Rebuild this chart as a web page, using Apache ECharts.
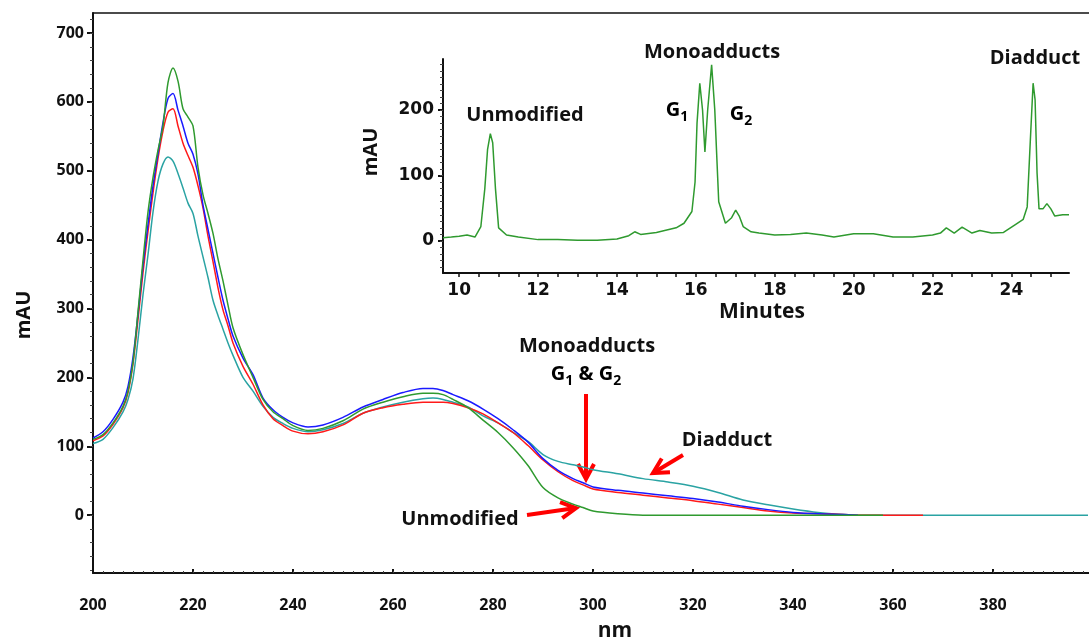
<!DOCTYPE html>
<html>
<head>
<meta charset="utf-8">
<script src="https://cdn.jsdelivr.net/npm/echarts@6/dist/echarts.min.js"></script>
<style>
  html, body { margin: 0; padding: 0; background: #fff; }
  #chart { width: 1089px; height: 643px; }
</style>
</head>
<body>
<div id="chart"></div>
<script>
// UV spectra (main plot)
var nm = [200, 202, 204, 206, 207, 208, 209, 210, 211, 212, 213, 214, 215, 216, 217, 218, 219, 220, 221, 222,
  223, 224, 225, 226, 227, 228, 230, 232, 234, 236, 238, 240, 243, 246, 250, 254, 258, 262, 266, 268, 270, 272,
  275, 278, 281, 284, 287, 290, 293, 296, 298, 300, 305, 310, 315, 320, 325, 330, 335, 340, 345, 350, 353, 358,
  366, 380, 399]
var unmodified = [110, 117, 134, 158, 180, 222, 295, 370, 440, 490, 530, 565, 628, 649, 630, 590, 578, 565, 505, 465,
  438, 409, 372, 340, 305, 272, 233, 200, 168, 150, 140, 130, 123, 126, 137, 154, 164, 172, 177, 177, 175, 168,
  156, 138, 120, 98, 72, 40, 25, 16, 11, 6, 2, 0, 0, 0, 0, 0, 0, 0, 0, 0, 0, 0,
  null, null, null]
var monoBlue = [112, 121, 139, 164, 187, 229, 292, 362, 422, 478, 525, 570, 605, 612, 588, 565, 540, 524, 495, 450,
  415, 380, 345, 312, 285, 260, 228, 204, 170, 153, 142, 134, 128, 131, 142, 157, 168, 178, 184, 184, 181, 175,
  166, 154, 140, 124, 106, 82, 65, 53, 47, 41, 36, 32, 28, 24, 19, 13, 8, 4, 2, 1, 0, null,
  null, null, null]
var monoRed = [108, 115, 132, 156, 178, 220, 284, 352, 412, 468, 518, 558, 585, 590, 565, 540, 522, 505, 478, 446,
  405, 368, 330, 298, 275, 250, 216, 190, 160, 140, 130, 122, 118, 121, 131, 148, 156, 161, 164, 164, 164, 162,
  156, 147, 134, 120, 101, 80, 63, 50, 44, 38, 33, 29, 25, 21, 16, 11, 6, 3, 2, 1, 0, 0,
  0, null, null]
var diadduct = [104, 110, 127, 150, 168, 198, 255, 320, 378, 440, 485, 510, 520, 514, 496, 475, 453, 438, 405, 375,
  345, 312, 290, 270, 250, 232, 200, 180, 158, 142, 133, 126, 121, 124, 133, 148, 157, 164, 169, 170, 168, 164,
  157, 144, 134, 120, 107, 88, 78, 73, 70, 66, 60, 53, 48, 42, 33, 22, 15, 9, 4, 1, 0, 0,
  0, 0, 0]

// HPLC trace (inset)
var minutes = [9.59, 9.8, 10.0, 10.2, 10.4, 10.55, 10.65, 10.72, 10.79, 10.85, 10.92, 11.0, 11.2, 11.5, 12.0, 12.5,
  13.0, 13.5, 14.0, 14.3, 14.45, 14.6, 15.0, 15.5, 15.7, 15.9, 15.98, 16.03, 16.1, 16.17, 16.23, 16.3, 16.4, 16.48,
  16.58, 16.75, 16.9, 17.01, 17.1, 17.2, 17.4, 17.6, 18.0, 18.4, 18.8, 19.2, 19.5, 20.0, 20.5, 21.0, 21.5, 22.0,
  22.2, 22.35, 22.55, 22.75, 23.0, 23.2, 23.5, 23.8, 24.1, 24.3, 24.4, 24.48, 24.55, 24.6, 24.65, 24.7, 24.8, 24.9,
  25.0, 25.1, 25.3, 25.46]
var trace = [5, 6, 7, 9, 6, 22, 80, 140, 164, 150, 80, 20, 9, 6, 2, 2,
  1, 1, 3, 8, 14, 10, 13, 20, 27, 45, 90, 180, 241, 200, 136, 200, 269, 200,
  60, 27, 35, 47, 38, 22, 14, 12, 9, 10, 12, 9, 6, 11, 11, 6, 6, 9,
  12, 20, 12, 21, 12, 16, 12, 13, 25, 33, 52, 154, 241, 216, 104, 49, 49, 57,
  49, 38, 40, 40]

var mainXLabels = [200, 220, 240, 260, 280, 300, 320, 340, 360, 380]
var mainYLabels = [0, 100, 200, 300, 400, 500, 600, 700]
var insetXLabels = [10, 12, 14, 16, 18, 20, 22, 24]
var insetYLabels = [0, 100, 200]

function pairs(xs, ys) {
  return xs.map(function (x, i) { return [x, ys[i]] })
}
function steps(a, b, step) {
  var out = []
  for (var v = a; v <= b + 1e-9; v += step) out.push(Math.round(v * 100) / 100)
  return out
}

var TXT = { fontFamily: 'Open Sans', fontWeight: 'bold', fill: '#111' }
function label(text, x, y, size, rotation) {
  return {
    type: 'text', x: x, y: y, rotation: rotation || 0,
    style: Object.assign({ text: text, fontSize: size, align: 'center', verticalAlign: 'middle' }, TXT)
  }
}
var subRich = {
  b: { fontFamily: 'Open Sans', fontWeight: 'bold', fontSize: 20, lineHeight: 24, verticalAlign: 'top', color: '#111' },
  s: { fontFamily: 'Open Sans', fontWeight: 'bold', fontSize: 14, lineHeight: 14, verticalAlign: 'bottom', color: '#111' }
}
function richLabel(text, x, y) {
  return {
    type: 'text', x: x, y: y,
    style: { text: text, align: 'center', verticalAlign: 'middle', rich: subRich }
  }
}
function arrow(x1, y1, x2, y2) {
  var dx = x2 - x1, dy = y2 - y1
  var len = Math.sqrt(dx * dx + dy * dy)
  var ux = dx / len, uy = dy / len, h = 15, w = 8
  var bx = x2 - ux * h, by = y2 - uy * h
  return [
    { type: 'line', shape: { x1: x1, y1: y1, x2: x2 - ux * 2, y2: y2 - uy * 2 }, style: { stroke: '#ff0000', lineWidth: 4 } },
    { type: 'polyline', shape: { points: [[bx - uy * w, by + ux * w], [x2, y2], [bx + uy * w, by - ux * w]] },
      style: { stroke: '#ff0000', lineWidth: 4, fill: null, lineJoin: 'miter' } }
  ]
}

var axisLine = { show: true, onZero: false, lineStyle: { color: '#111', width: 2 } }
var noLine = { show: false, onZero: false }
var mainTick = { fontFamily: 'Open Sans', fontWeight: 'bold', fontSize: 16, color: '#111' }
var insetTick = { fontFamily: 'DejaVu Sans', fontWeight: 'bold', fontSize: 17, color: '#111' }

function mainLine(name, data, color) {
  return {
    name: name, type: 'line', xAxisIndex: 0, yAxisIndex: 0, data: pairs(nm, data),
    showSymbol: false, smooth: 0.3, lineStyle: { color: color, width: 1.5 }, itemStyle: { color: color }
  }
}

var chart = echarts.init(document.getElementById('chart'))
chart.setOption({
  animation: false,
  backgroundColor: '#fff',
  grid: [
    { left: 93, top: 13, width: 996, height: 560 },
    { left: 443, top: 59, width: 626, height: 214 }
  ],
  xAxis: [
    {
      type: 'value', gridIndex: 0, position: 'bottom', min: 200, max: 399.2,
      axisLine: axisLine, splitLine: { show: false },
      axisTick: { inside: true, length: 4, customValues: mainXLabels, lineStyle: { color: '#111', width: 2 } },
      axisLabel: Object.assign({ margin: 24, customValues: mainXLabels }, mainTick)
    },
    {
      // minor ticks along the bottom
      type: 'value', gridIndex: 0, position: 'bottom', min: 200, max: 399.2,
      axisLine: noLine, splitLine: { show: false }, axisLabel: { show: false },
      axisTick: { inside: true, length: 2, customValues: steps(202, 398, 2), lineStyle: { color: '#444' } }
    },
    {
      // top frame line
      type: 'value', gridIndex: 0, position: 'top', min: 200, max: 399.2,
      axisLine: { show: true, onZero: false, lineStyle: { color: '#111', width: 1.5 } },
      axisTick: { show: false }, axisLabel: { show: false }, splitLine: { show: false }
    },
    {
      type: 'value', gridIndex: 1, position: 'bottom', min: 9.59, max: 25.46,
      axisLine: axisLine, splitLine: { show: false },
      axisTick: { length: 4, customValues: steps(10, 25, 0.5), lineStyle: { color: '#111', width: 1.5 } },
      axisLabel: Object.assign({ margin: 9, customValues: insetXLabels }, insetTick)
    }
  ],
  yAxis: [
    {
      type: 'value', gridIndex: 0, position: 'left', min: -84, max: 729,
      axisLine: axisLine, splitLine: { show: false },
      axisTick: { length: 6, customValues: mainYLabels, lineStyle: { color: '#111', width: 2 } },
      axisLabel: Object.assign({ margin: 9, customValues: mainYLabels }, mainTick)
    },
    {
      // minor ticks for the main y axis
      type: 'value', gridIndex: 0, position: 'left', min: -84, max: 729,
      axisLine: noLine, splitLine: { show: false }, axisLabel: { show: false },
      axisTick: { length: 3, customValues: steps(-80, 720, 20), lineStyle: { color: '#444' } }
    },
    {
      type: 'value', gridIndex: 1, position: 'left', min: -49, max: 278,
      axisLine: axisLine, splitLine: { show: false },
      axisTick: { length: 5, customValues: insetYLabels, lineStyle: { color: '#111', width: 2 } },
      axisLabel: Object.assign({ margin: 9, customValues: insetYLabels }, insetTick)
    },
    {
      type: 'value', gridIndex: 1, position: 'left', min: -49, max: 278,
      axisLine: noLine, splitLine: { show: false }, axisLabel: { show: false },
      axisTick: { length: 3, customValues: steps(-40, 270, 10), lineStyle: { color: '#444' } }
    }
  ],
  series: [
    mainLine('Diadduct', diadduct, '#2aa3a3'),
    mainLine('Monoadduct G2', monoRed, '#ff1a1a'),
    mainLine('Monoadduct G1', monoBlue, '#1a1aff'),
    mainLine('Unmodified', unmodified, '#2f9a2f'),
    {
      name: 'HPLC', type: 'line', xAxisIndex: 3, yAxisIndex: 2, data: pairs(minutes, trace),
      showSymbol: false, lineStyle: { color: '#2f9a2f', width: 1.5 }, itemStyle: { color: '#2f9a2f' }
    }
  ],
  graphic: [
    label('mAU', 24, 315, 20, Math.PI / 2),
    label('nm', 615, 631, 21),
    label('Monoadducts', 587, 346, 20),
    richLabel('{b|G}{s|1}{b| & G}{s|2}', 586, 376),
    label('Diadduct', 727, 440, 20),
    label('Unmodified', 460, 519, 20),
    label('mAU', 371, 152, 20, Math.PI / 2),
    label('Minutes', 762, 312, 21),
    label('Unmodified', 525, 115, 20),
    label('Monoadducts', 712, 52, 20),
    richLabel('{b|G}{s|1}', 677, 112),
    richLabel('{b|G}{s|2}', 741, 116),
    label('Diadduct', 1035, 58, 20)
  ].concat(arrow(586, 394, 586, 479), arrow(683, 455, 653, 473), arrow(527, 515, 576, 508))
})
</script>
</body>
</html>
